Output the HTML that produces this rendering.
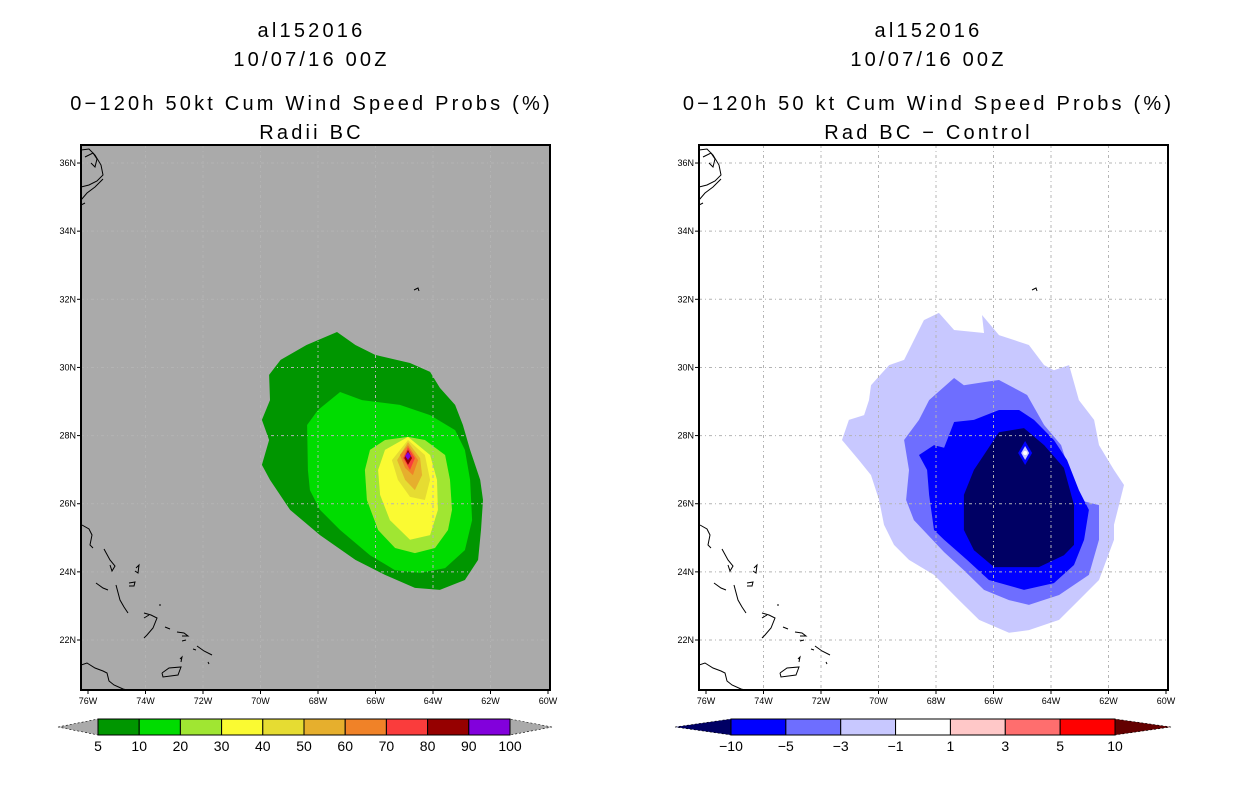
<!DOCTYPE html>
<html><head><meta charset="utf-8"><style>
body{margin:0;background:#fff;width:1236px;height:800px;overflow:hidden}
svg{display:block;font-family:"Liberation Sans",sans-serif}
</style></head><body>
<svg id="chart" width="1236" height="800" viewBox="0 0 1236 800">
<g id="root"></g>
</svg>
<script>
// ---- data ----
const lonTicks=[-76,-74,-72,-70,-68,-66,-64,-62,-60];
const latTicks=[22,24,26,28,30,32,34,36];
const probLevels=[5,10,20,30,40,50,60,70,80,90,100];
const probColors=["#009600","#00dc00","#a0e632","#fafa32","#e6dc32","#e6af2d","#f08228","#fa3c3c","#960000","#8200dc"];
const diffLevels=["−10","−5","−3","−1","1","3","5","10"];
const diffColors=["#0000ff","#6e6eff","#c8c8ff","#ffffff","#ffc8c8","#ff6e6e","#ff0000"];
// contour polygons [lon,lat]
const prob5=[[-68.4,30.66],[-67.34,31.04],[-66.7,30.66],[-66.02,30.37],[-64.8,30.13],[-64.1,29.87],[-63.76,29.4],[-63.23,28.9],[-62.96,28.31],[-62.71,27.58],[-62.36,26.7],[-62.26,26.11],[-62.33,25.23],[-62.43,24.35],[-62.89,23.76],[-63.76,23.47],[-64.63,23.53],[-65.67,23.91],[-66.7,24.35],[-67.93,25.08],[-68.97,25.82],[-69.67,26.7],[-69.95,27.14],[-69.7,27.87],[-69.95,28.46],[-69.67,29.04],[-69.7,29.78],[-69.3,30.22]];
const prob10=[[-67.23,29.28],[-66.47,29.04],[-65.15,28.9],[-64.1,28.6],[-63.23,28.16],[-62.89,27.58],[-62.71,26.7],[-62.64,25.52],[-62.89,24.64],[-63.58,24.11],[-64.45,23.97],[-65.32,24.05],[-66.19,24.49],[-67.23,25.23],[-67.93,25.82],[-68.28,26.4],[-68.35,26.99],[-68.38,28.31],[-68.0,28.75]];
const prob20=[[-64.87,27.96],[-64.28,27.87],[-63.58,27.43],[-63.41,26.7],[-63.34,25.82],[-63.48,25.23],[-63.93,24.7],[-64.63,24.55],[-65.32,24.7],[-65.91,25.23],[-66.3,26.11],[-66.37,26.99],[-66.19,27.58],[-65.67,27.87]];
const prob30=[[-64.87,27.96],[-64.1,27.43],[-63.86,26.7],[-63.83,25.82],[-64.1,25.08],[-64.8,24.94],[-65.5,25.52],[-65.84,26.26],[-65.91,26.99],[-65.67,27.58]];
const prob40=[[-64.87,27.87],[-64.28,27.43],[-64.1,26.7],[-64.28,26.11],[-64.8,26.2],[-65.22,26.7],[-65.43,27.28]];
const prob50=[[-64.87,27.81],[-64.45,27.34],[-64.38,26.84],[-64.63,26.4],[-64.97,26.7],[-65.25,27.28]];
const prob60=[[-64.87,27.72],[-64.52,27.28],[-64.7,26.84],[-64.97,27.05],[-65.15,27.43]];
const prob70=[[-64.87,27.66],[-64.63,27.34],[-64.8,26.99],[-65.04,27.34]];
const prob80=[[-64.87,27.58],[-64.73,27.34],[-64.87,27.14],[-65.0,27.34]];
const prob90=[[-64.87,27.52],[-64.77,27.4],[-64.87,27.28],[-64.97,27.4]];
const diff1=[[-67.9,31.6],[-67.37,31.1],[-66.33,31.01],[-66.4,31.54],[-65.81,30.95],[-64.77,30.66],[-64.24,30.07],[-63.9,29.92],[-63.37,30.07],[-63.03,29.04],[-62.5,28.46],[-62.33,27.72],[-61.81,26.99],[-61.46,26.55],[-61.81,25.38],[-61.81,24.94],[-62.33,23.76],[-63.03,23.17],[-63.72,22.59],[-64.77,22.29],[-65.46,22.21],[-66.5,22.59],[-67.2,23.17],[-68.07,23.91],[-68.94,24.35],[-69.46,24.79],[-69.81,25.38],[-69.98,26.11],[-70.26,26.84],[-70.68,27.28],[-71.27,27.87],[-71.03,28.46],[-70.5,28.6],[-70.33,29.04],[-70.26,29.48],[-69.63,30.07],[-69.11,30.22],[-68.42,31.39]];
const diff3=[[-67.37,29.69],[-67.03,29.48],[-66.33,29.57],[-65.81,29.63],[-65.29,29.4],[-64.83,29.19],[-64.24,28.31],[-63.65,27.72],[-63.37,26.99],[-63.03,26.11],[-62.33,25.96],[-62.33,24.94],[-62.68,23.91],[-63.72,23.32],[-64.77,23.03],[-65.46,23.17],[-66.33,23.47],[-67.03,24.05],[-67.72,24.58],[-68.77,25.52],[-69.04,26.11],[-68.94,26.99],[-69.11,27.87],[-68.59,28.46],[-68.24,29.04]];
const diff5=[[-67.37,28.4],[-66.68,28.46],[-65.81,28.75],[-65.11,28.75],[-64.59,28.46],[-63.9,27.87],[-63.44,27.28],[-63.03,26.4],[-62.68,25.82],[-62.85,24.94],[-63.2,24.2],[-63.9,23.67],[-64.94,23.47],[-66.16,23.76],[-66.92,24.35],[-67.72,24.94],[-68.07,25.23],[-68.24,26.26],[-68.31,26.99],[-68.59,27.43],[-68.07,27.72],[-67.72,27.64]];
const diff10=[[-65.81,28.1],[-64.94,28.22],[-64.24,27.72],[-63.55,27.05],[-63.2,25.96],[-63.2,24.79],[-63.55,24.49],[-64.42,24.14],[-65.98,24.14],[-66.68,24.64],[-67.03,25.23],[-67.03,26.26],[-66.68,26.99]];
const diffCenter=[-64.9,27.49];
// ---- layout ----
const NS="http://www.w3.org/2000/svg";
const root=document.getElementById('root');
function mk(tag,attrs,parent){const e=document.createElementNS(NS,tag);for(const k in attrs)e.setAttribute(k,attrs[k]);(parent||root).appendChild(e);return e;}
const PW=469,PH=545,PY=145;
function xS(lon){return 88+(lon+76)*28.75-81;}
function yS(lat){return 640-(lat-22)*34.07-PY;}
function poly(pts,fill,g){return mk('polygon',{points:pts.map(p=>xS(p[0]).toFixed(1)+','+yS(p[1]).toFixed(1)).join(' '),fill:fill},g);}
// coastline polylines in panel pixel offsets (geography, not data)
const coasts=[
 "0,5 8,4 14,10 20,20 22,30 16,36 8,40 0,42","4,12 12,8 16,14 14,22 10,18","0,55 6,48 14,42 22,34","0,60 4,58",
 "1,380 8,384 11,390 9,400 12,403","23,404 29,415 34,421 31,426 29,420","15,438 22,443 27,445",
 "35,440 39,455 43,462 47,468","55,423 58,420 57,428 54,426","48,438 54,437 53,441 48,441",
 "63,468 70,470 76,473 72,483 66,490 63,493","68,470 63,473","78,460 80,460","84,482 89,484",
 "96,487 103,488 107,491 101,491","101,496 105,495","116,501 123,506 131,510","112,504 115,505","127,517 128,519",
 "0,520 6,518 14,523 22,526 26,528 28,536 33,540 42,544 50,546",
 "81,528 88,523 100,522 97,530 82,532 81,528","99,514 101,512 100,517",
 "333,145 337,143 338,146"
];
function panel(ox,isProb){
 const g=mk('g',{transform:`translate(${ox},${PY})`});
 
 
 const cp=mk('clipPath',{id:'cp'+ox},g);mk('rect',{x:0,y:0,width:PW,height:PH},cp);
 const bg=mk('rect',{x:0,y:0,width:PW,height:PH,fill:isProb?'#aaaaaa':'#ffffff'},g);
 
 
 const cg=mk('g',{'clip-path':`url(#cp${ox})`},g);
 if(isProb){
  [prob5,prob10,prob20,prob30,prob40,prob50,prob60,prob70,prob80,prob90].forEach((p,i)=>{
   const e=poly(p,probColors[i],cg);
   
   
  });
 } else {
  [diff1,diff3,diff5,diff10].forEach((p,i)=>{
   const e=poly(p,[diffColors[2],diffColors[1],diffColors[0],'#000064'][i],cg);
   
   
  });
  const cx=xS(diffCenter[0]),cy=yS(diffCenter[1]);
  const d1=mk('polygon',{points:`${cx},${cy-12} ${cx+7},${cy} ${cx},${cy+12} ${cx-7},${cy}`,fill:'#0000ff'},cg);
  
  
  mk('polygon',{points:`${cx},${cy-7} ${cx+4},${cy} ${cx},${cy+7} ${cx-4},${cy}`,fill:'#c8c8ff'},cg);
  mk('circle',{cx:cx,cy:cy,r:2,fill:'#fff'},cg);
 }
 // grid
 lonTicks.slice(1,-1).forEach(l=>{const e=mk('line',{x1:xS(l),x2:xS(l),y1:0,y2:PH,stroke:'#b4b4b4','stroke-width':1,'stroke-dasharray':'3,3,1,3'},cg);});
 latTicks.forEach(l=>{const e=mk('line',{x1:0,x2:PW,y1:yS(l),y2:yS(l),stroke:'#b4b4b4','stroke-width':1,'stroke-dasharray':'3,3,1,3'},cg);});
 // coasts
 coasts.forEach(c=>{const e=mk('polyline',{points:c,fill:'none',stroke:'#000','stroke-width':1},cg);});
 const fr=mk('rect',{x:0,y:0,width:PW,height:PH,fill:'none',stroke:'#000','stroke-width':2},g);
 
 lonTicks.forEach(l=>{
  mk('line',{x1:xS(l),x2:xS(l),y1:PH,y2:PH+4,stroke:'#000'},g);
  const t=mk('text',{x:xS(l),y:PH+14,'font-size':9,'text-anchor':'middle'},g);
  t.textContent=Math.abs(l)+'W';
  
 });
 latTicks.forEach(l=>{
  mk('line',{x1:-4,x2:0,y1:yS(l),y2:yS(l),stroke:'#000'},g);
  const t=mk('text',{x:-5,y:yS(l)+3,'font-size':9,'text-anchor':'end'},g);
  t.textContent=l+'N';
  
 });
}
panel(81,true);panel(699,false);
function title(cx,lines){
 const ys=[37,66,110,139];
 lines.forEach((s,i)=>{const t=mk('text',{x:cx+1.5,y:ys[i],'font-size':20,'text-anchor':'middle','letter-spacing':'3.2'});t.textContent=s;
  });
}
title(310,["al152016","10/07/16 00Z","0−120h 50kt Cum Wind Speed Probs (%)","Radii BC"]);
title(927,["al152016","10/07/16 00Z","0−120h 50 kt Cum Wind Speed Probs (%)","Rad BC − Control"]);
function cbar(x0,x1,tl,tr,colors,labels,lc,rc,nm){
 const g=mk('g',{});
 const y0=719,y1=735,ym=727,w=(x1-x0)/colors.length;
 mk('polygon',{points:`${tl},${ym} ${x0},${y0} ${x0},${y1}`,fill:lc,stroke:'#000','stroke-width':0.6,'stroke-dasharray':'2,2'},g);
 mk('polygon',{points:`${tr},${ym} ${x1},${y0} ${x1},${y1}`,fill:rc,stroke:'#000','stroke-width':0.6,'stroke-dasharray':'2,2'},g);
 colors.forEach((c,i)=>{const r=mk('rect',{x:x0+i*w,y:y0,width:w,height:y1-y0,fill:c,stroke:'#000','stroke-width':1},g);
  });
 labels.forEach((s,i)=>{const t=mk('text',{x:x0+i*w,y:751,'font-size':14,'text-anchor':'middle'},g);t.textContent=s;
  });
}
cbar(98,510,58,552,probColors,probLevels.map(String),'#aaaaaa','#aaaaaa','prob-colorbar');
cbar(731,1115,675,1171,diffColors,diffLevels,'#000064','#640000','diff-colorbar');
</script>
</body></html>
